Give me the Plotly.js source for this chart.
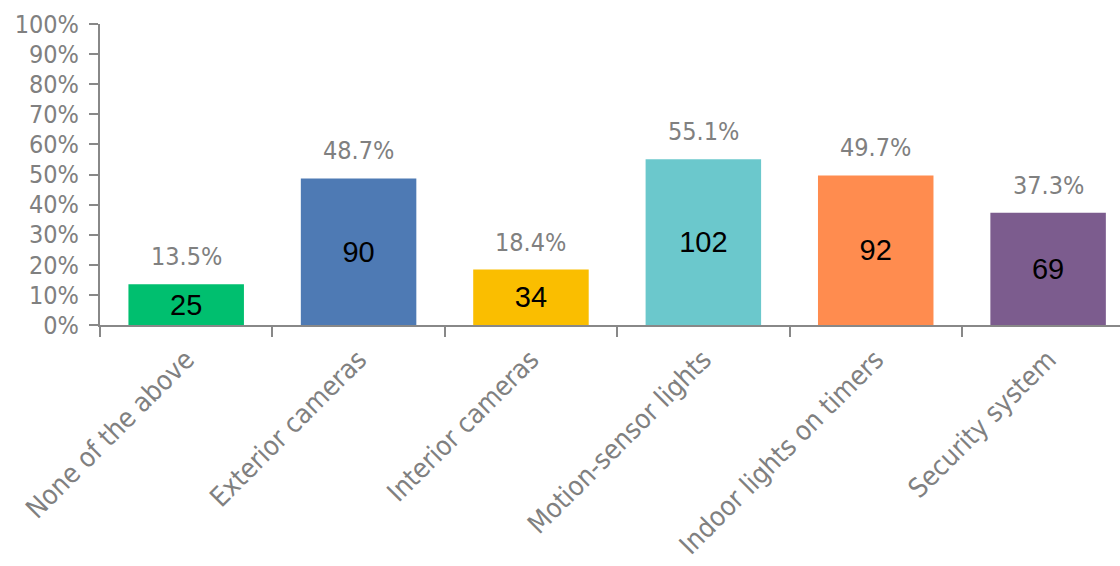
<!DOCTYPE html>
<html>
<head>
<meta charset="utf-8">
<script src="https://cdn.plot.ly/plotly-3.0.1.min.js"></script>
<style>html,body{margin:0;padding:0;background:#fff;}#chart{width:1120px;height:566px;}</style>
</head>
<body>
<div id="chart"></div>
<script>
const categories = ["None of the above", "Exterior cameras", "Interior cameras", "Motion-sensor lights", "Indoor lights on timers", "Security system"];
const percents = [13.5, 48.7, 18.4, 55.1, 49.7, 37.3];
const counts = [25, 90, 34, 102, 92, 69];
const colors = ["#00BF6F", "#4E7AB4", "#FABE00", "#6BC8CC", "#FF8C4F", "#7C5C8E"];
const yTickVals = [0, 10, 20, 30, 40, 50, 60, 70, 80, 90, 100];

const gray = "#808080";
const axisGray = "#888888";

const trace = {
  type: "bar",
  x: categories,
  y: percents,
  text: counts.map(String),
  textposition: "inside",
  insidetextanchor: "middle",
  textangle: 0,
  textfont: {family: "Liberation Sans, Arial, sans-serif", size: 29, color: "#000"},
  marker: {color: colors, line: {width: 0}},
  hoverinfo: "none",
  cliponaxis: false
};

const annotations = categories.map((c, i) => ({
  x: c, y: percents[i], xref: "x", yref: "y",
  text: percents[i].toFixed(1) + "%",
  showarrow: false, yanchor: "bottom", xanchor: "center", yshift: 11,
  font: {family: "DejaVu Sans Condensed, DejaVu Sans, sans-serif", size: 25, color: gray}
}));

const layout = {
  width: 1120, height: 566,
  margin: {l: 100, r: 0, t: 24, b: 241},
  paper_bgcolor: "#fff", plot_bgcolor: "#fff",
  showlegend: false,
  bargap: 0.33,
  xaxis: {
    type: "category",
    range: [-0.5, 5.417],
    showgrid: false, zeroline: false,
    showline: true, linecolor: axisGray, linewidth: 2,
    ticks: "outside", ticklen: 10, tickwidth: 2, tickcolor: axisGray,
    tickson: "boundaries",
    tickangle: -45,
    ticklabelstandoff: 6,
    tickfont: {family: "DejaVu Sans Condensed, DejaVu Sans, sans-serif", size: 27, color: gray},
    fixedrange: true
  },
  yaxis: {
    range: [0, 100],
    tickvals: yTickVals,
    ticktext: yTickVals.map(v => v + "%"),
    showgrid: false, zeroline: false,
    showline: true, linecolor: axisGray, linewidth: 2,
    ticks: "outside", ticklen: 9, tickwidth: 2, tickcolor: axisGray,
    ticklabelstandoff: 5,
    tickfont: {family: "DejaVu Sans Condensed, DejaVu Sans, sans-serif", size: 25, color: gray},
    fixedrange: true
  },
  annotations: annotations
};

Plotly.newPlot("chart", [trace], layout, {displayModeBar: false, staticPlot: true});
</script>
</body>
</html>
